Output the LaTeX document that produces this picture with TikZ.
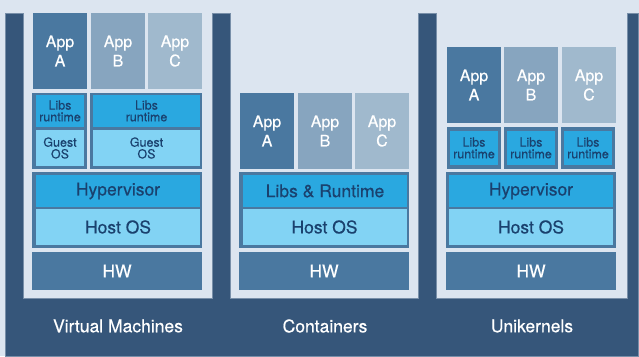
\documentclass[tikz,border=0pt]{standalone}
\usepackage{fontspec}
\setmainfont{TeX Gyre Heros}[FakeBold=0.4]
\definecolor{bgLight}{HTML}{DCE5F0}
\definecolor{navyDark}{HTML}{36567A}
\definecolor{frameBlue}{HTML}{4A78A0}
\definecolor{appMid}{HTML}{87A5BF}
\definecolor{appPale}{HTML}{A0B9CD}
\definecolor{libBlue}{HTML}{2AA8E0}
\definecolor{osBlue}{HTML}{82D3F4}
\definecolor{textNavy}{HTML}{1A416E}

\begin{document}
\begin{tikzpicture}[x=1pt,y=-1pt,
  blk/.style={inner sep=0pt,outer sep=0pt,align=center},
  app/.style={blk,text=white,font=\fontsize{16}{19.3}\selectfont,minimum width=54pt,minimum height=76pt},
  frm/.style={blk,fill=frameBlue},
  lib/.style={blk,fill=libBlue,text=textNavy,font=\fontsize{12.5}{11.7}\selectfont},
  os/.style={blk,fill=osBlue,text=textNavy,font=\fontsize{12.5}{11.7}\selectfont},
  big/.style={font=\fontsize{17.5}{19}\selectfont,minimum width=164pt},
  hw/.style={blk,fill=frameBlue,text=white,font=\fontsize{17.5}{19}\selectfont,minimum width=170pt,minimum height=38pt},
  caption/.style={blk,text=white,font=\fontsize{17.5}{19}\selectfont}]
\useasboundingbox[fill=bgLight] (0,0) rectangle (639,356);
\path[fill=navyDark,draw=navyDark!60!bgLight,line width=.6pt] (5,356) -- (5,13) -- (23,13) -- (23,298) -- (212,298) -- (212,13) -- (230,13) -- (230,298) -- (418,298) -- (418,13) -- (436,13) -- (436,298) -- (627,298) -- (627,13) -- (638,13) -- (638,356) -- cycle;
% Virtual Machines
\node[app,fill=frameBlue] (vmAppA) at (60,51) {App\\A};
\node[app,fill=appMid] (vmAppB) at (118,51) {App\\B};
\node[app,fill=appPale] (vmAppC) at (175,51) {App\\C};
\node[frm,minimum width=55pt,minimum height=76pt] (vmFrameA) at (59.5,131) {};
\node[lib,minimum width=48pt,minimum height=32pt] (vmLibsA) at (60,111) {Libs\\runtime};
\node[os,minimum width=48pt,minimum height=36pt] (vmGuestA) at (60,148) {Guest\\OS};
\node[frm,minimum width=112pt,minimum height=76pt] (vmFrameB) at (146,131) {};
\node[lib,minimum width=107pt,minimum height=32pt] (vmLibsB) at (146.5,111) {Libs\\runtime};
\node[os,minimum width=107pt,minimum height=36pt] (vmGuestB) at (146.5,148) {Guest\\OS};
\node[frm,minimum width=170pt,minimum height=76pt] (vmFrameH) at (117,210) {};
\node[lib,big,minimum height=32pt] (vmHyper) at (118,191) {Hypervisor};
\node[os,big,minimum height=36pt] (vmHost) at (118,227) {Host OS};
\node[hw] (vmHW) at (117,271) {HW};
\node[caption] (vmLabel) at (118,326) {Virtual Machines};
% Containers
\node[app,fill=frameBlue] (ctAppA) at (267,131) {App\\A};
\node[app,fill=appMid] (ctAppB) at (325,131) {App\\B};
\node[app,fill=appPale] (ctAppC) at (382,131) {App\\C};
\node[frm,minimum width=170pt,minimum height=76pt] (ctFrame) at (324,210) {};
\node[lib,big,minimum height=32pt] (ctLibs) at (325,191) {Libs \& Runtime};
\node[os,big,minimum height=36pt] (ctHost) at (324.5,227) {Host OS};
\node[hw] (ctHW) at (324,271) {HW};
\node[caption] (ctLabel) at (325,326) {Containers};
% Unikernels
\node[app,fill=frameBlue] (ukAppA) at (474,85) {App\\A};
\node[app,fill=appMid] (ukAppB) at (531,85) {App\\B};
\node[app,fill=appPale] (ukAppC) at (589,85) {App\\C};
\node[frm,minimum width=54pt,minimum height=42pt] (ukFrameA) at (474,148) {};
\node[lib,minimum width=48pt,minimum height=34pt] (ukLibsA) at (474,148) {Libs\\runtime};
\node[frm,minimum width=54pt,minimum height=42pt] (ukFrameB) at (531,148) {};
\node[lib,minimum width=48pt,minimum height=34pt] (ukLibsB) at (531,148) {Libs\\runtime};
\node[frm,minimum width=54pt,minimum height=42pt] (ukFrameC) at (588,148) {};
\node[lib,minimum width=48pt,minimum height=34pt] (ukLibsC) at (588,148) {Libs\\runtime};
\node[frm,minimum width=170pt,minimum height=76pt] (ukFrameH) at (531,210) {};
\node[lib,big,minimum height=32pt] (ukHyper) at (531,191) {Hypervisor};
\node[os,big,minimum height=36pt] (ukHost) at (531,227) {Host OS};
\node[hw] (ukHW) at (531,271) {HW};
\node[caption] (ukLabel) at (532,326) {Unikernels};
\end{tikzpicture}
\end{document}
